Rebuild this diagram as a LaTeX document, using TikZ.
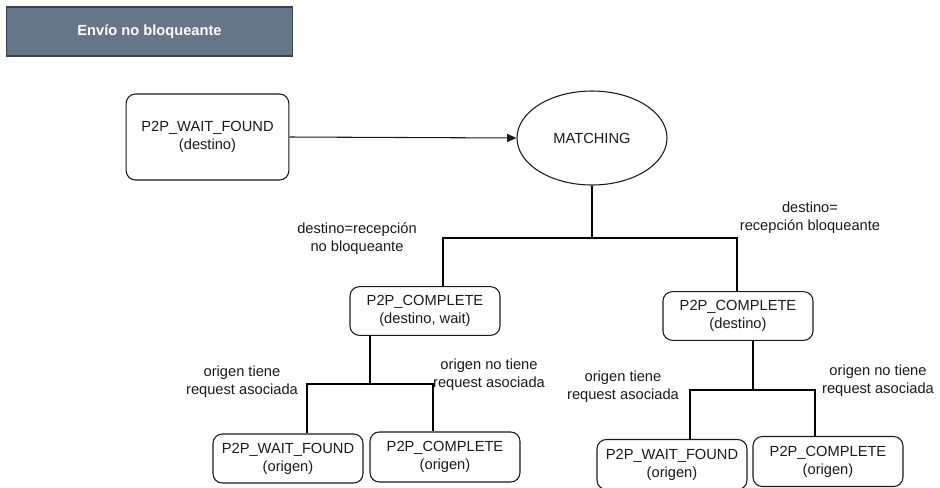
\documentclass[tikz,border=0pt]{standalone}
\usepackage{fontspec}
\setmainfont{Liberation Sans}
\usetikzlibrary{arrows.meta,shapes.geometric}
\definecolor{titlefill}{HTML}{647687}
\definecolor{titledraw}{HTML}{314354}
\definecolor{ink}{HTML}{1A1A1A}

\begin{document}
\begin{tikzpicture}[x=0.75pt,y=-0.75pt,
  txt/.style={font=\fontsize{11}{13.5}\selectfont, text=ink, align=center, inner sep=0pt},
  state/.style={txt, draw=ink, fill=white, rounded corners=7pt, line width=0.8pt,
                minimum width=112.5pt, minimum height=36.5pt},
  branch/.style={draw=black, line width=1.7pt},
  flow/.style={draw=ink, line width=0.8pt, -{Triangle[length=7pt,width=6pt]}}]

\useasboundingbox (0,0) rectangle (940,487);

% title bar
\node[txt, draw=titledraw, fill=titlefill, text=white, font=\bfseries\fontsize{11}{13.5}\selectfont,
      minimum width=215pt, minimum height=36.75pt, line width=0.8pt] (title) at (149.5,31.5) {Envío no bloqueante};

% first level
\node[state, minimum width=122pt, minimum height=64.5pt] (wfd) at (207.5,137) {P2P\_WAIT\_FOUND\\(destino)};
\node[txt, draw=ink, fill=white, ellipse, line width=0.8pt, minimum width=112.5pt, minimum height=70.5pt] (match) at (592,138) {MATCHING};
\draw[flow] (wfd.east) -- (match.west);

% second level
\node[state] (cl) at (425,311) {P2P\_COMPLETE\\(destino, wait)};
\node[state] (cr) at (738,316) {P2P\_COMPLETE\\(destino)};

\coordinate (jl) at (443,238);
\coordinate (jr) at (737,238);
\draw[branch] (match.south) -- (match.south |- jl);
\draw[branch] (jl |- cl.north) -- (jl) -- (jr) -- (jr |- cr.north);

\node[txt] (lbl1) at (357,239) {destino=recepción\\no bloqueante};
\node[txt] (lbl2) at (810,218) {destino=\\recepción bloqueante};

% third level, left branch
\node[state, minimum height=36.75pt] (lw) at (288,458.5) {P2P\_WAIT\_FOUND\\(origen)};
\node[state, minimum height=37.5pt] (lc) at (445,457) {P2P\_COMPLETE\\(origen)};

\coordinate (ks) at (370,384);
\coordinate (kl) at (307,384);
\coordinate (kr) at (433,384);
\draw[branch] (ks |- cl.south) -- (ks);
\draw[branch] (kl |- lw.north) -- (kl) -- (kr) -- (kr |- lc.north);

\node[txt] (lbl3) at (242,382) {origen tiene\\request asociada};
\node[txt] (lbl4) at (489,375) {origen no tiene\\request asociada};

% third level, right branch (runs past the lower edge)
\node[state, minimum height=37.5pt] (rw) at (672,464.5) {P2P\_WAIT\_FOUND\\(origen)};
\node[state, minimum height=37.5pt] (rc) at (828,461.5) {P2P\_COMPLETE\\(origen)};

\coordinate (ms) at (753,390);
\coordinate (ml) at (690,390);
\coordinate (mr) at (815,390);
\draw[branch] (ms |- cr.south) -- (ms);
\draw[branch] (ml |- rw.north) -- (ml) -- (mr) -- (mr |- rc.north);

\node[txt] (lbl5) at (623,387) {origen tiene\\request asociada};
\node[txt] (lbl6) at (878,381) {origen no tiene\\request asociada};
\end{tikzpicture}
\end{document}
